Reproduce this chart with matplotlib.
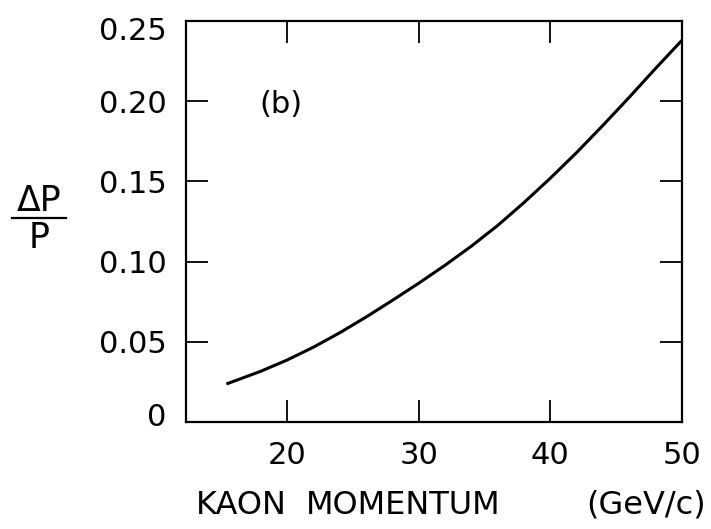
import matplotlib
matplotlib.use("Agg")
import matplotlib.pyplot as plt
import matplotlib.transforms as mtransforms
from matplotlib.lines import Line2D

# curve
momentum = [15.4, 18, 20, 22, 24, 26, 28, 30, 32, 34, 36, 38, 40, 42, 44, 46, 48, 50]
resolution = [0.0237, 0.0316, 0.0386, 0.0466, 0.0556, 0.0654, 0.0758, 0.0865, 0.0977,
              0.1096, 0.1225, 0.1368, 0.152, 0.168, 0.185, 0.2025, 0.2205, 0.238]

xticks = [20, 30, 40, 50]
yticks = [0, 0.05, 0.10, 0.15, 0.20, 0.25]
ylabels = ["0", "0.05", "0.10", "0.15", "0.20", "0.25"]

FS = 22


def main():
    fig = plt.figure(figsize=(7.11, 5.29), dpi=100)
    ax = fig.add_axes([186 / 711, 1 - 422 / 529, 496 / 711, 401 / 529])

    ax.plot(momentum, resolution, color="black", lw=2.2, solid_capstyle="butt")

    ax.set_xlim(12.33, 50)
    ax.set_ylim(0, 0.25)
    ax.set_xticks(xticks)
    ax.set_yticks(yticks)
    ax.set_xticklabels([str(t) for t in xticks], fontsize=FS)
    ax.set_yticklabels(ylabels, fontsize=FS)
    ax.tick_params(direction="in", length=16, width=1.3, top=True, right=True,
                   color="black")
    ax.tick_params(axis="x", pad=14)
    ax.tick_params(axis="y", pad=14)
    for s in ax.spines.values():
        s.set_linewidth(1.6)

    # end labels on the y axis sit a little inside the box
    labs = ax.get_yticklabels()
    labs[0].set_transform(labs[0].get_transform() +
                          mtransforms.ScaledTranslation(0, 7 / 100, fig.dpi_scale_trans))
    labs[-1].set_transform(labs[-1].get_transform() +
                           mtransforms.ScaledTranslation(0, -7 / 100, fig.dpi_scale_trans))

    ax.text(19.55, 0.198, "(b)", fontsize=FS, ha="center", va="center")

    # x axis title, words placed as in the scan
    ty = 1 - 505 / 529
    fig.text(196 / 711, ty, "KAON", fontsize=23, ha="left", va="center")
    fig.text(306 / 711, ty, "MOMENTUM", fontsize=23, ha="left", va="center")
    fig.text(706 / 711, ty, "(GeV/c)", fontsize=23, ha="right", va="center")

    # ΔP / P drawn as a stacked fraction
    fig.text(39 / 711, 1 - 201 / 529, "ΔP", fontsize=25, ha="center", va="center")
    fig.text(39 / 711, 1 - 238 / 529, "P", fontsize=25, ha="center", va="center")
    fig.add_artist(Line2D([12 / 711, 66 / 711], [1 - 218 / 529, 1 - 218 / 529],
                          color="black", lw=1.6, transform=fig.transFigure))

    fig.savefig("out.png", dpi=100)


main()
